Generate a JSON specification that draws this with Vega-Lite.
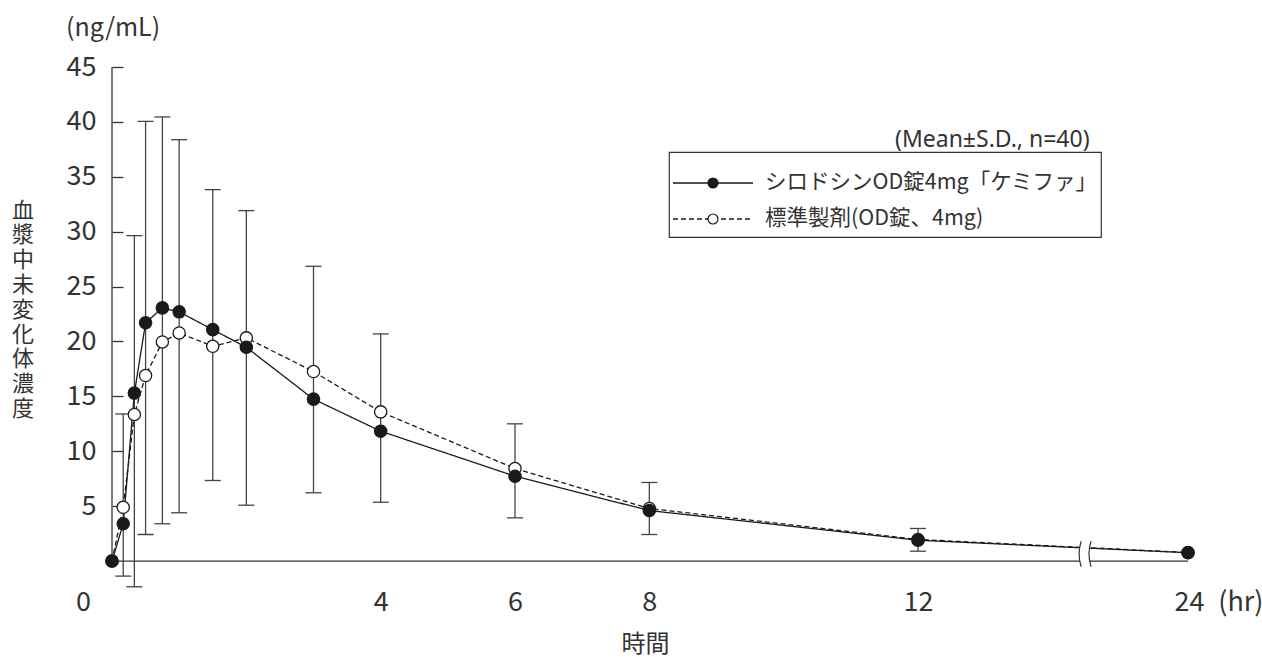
{
  "$schema": "https://vega.github.io/schema/vega-lite/v6.json",
  "width": 1076,
  "height": 538,
  "autosize": {"type": "none"},
  "padding": {"left": 112, "top": 67, "right": 74, "bottom": 52},
  "background": "white",
  "config": {"font": "Noto Sans CJK JP", "view": {"stroke": null}},
  "title": {"text": "(ng/mL)", "anchor": "start", "frame": "group", "orient": "top", "dx": -46, "dy": 27, "offset": 14, "baseline": "bottom", "fontSize": 25, "fontWeight": "normal", "color": "#333", "font": "Noto Sans CJK JP"},
  "datasets": {
    "conc": [
      {"t": 0, "v": 0, "series": "標準製剤(OD錠、4mg)"},
      {"t": 0.167, "v": 4.9, "series": "標準製剤(OD錠、4mg)"},
      {"t": 0.333, "v": 13.35, "series": "標準製剤(OD錠、4mg)"},
      {"t": 0.5, "v": 16.9, "series": "標準製剤(OD錠、4mg)"},
      {"t": 0.75, "v": 19.96, "series": "標準製剤(OD錠、4mg)"},
      {"t": 1, "v": 20.78, "series": "標準製剤(OD錠、4mg)"},
      {"t": 1.5, "v": 19.56, "series": "標準製剤(OD錠、4mg)"},
      {"t": 2, "v": 20.33, "series": "標準製剤(OD錠、4mg)"},
      {"t": 3, "v": 17.26, "series": "標準製剤(OD錠、4mg)"},
      {"t": 4, "v": 13.59, "series": "標準製剤(OD錠、4mg)"},
      {"t": 6, "v": 8.43, "series": "標準製剤(OD錠、4mg)"},
      {"t": 8, "v": 4.79, "series": "標準製剤(OD錠、4mg)"},
      {"t": 12, "v": 1.97, "series": "標準製剤(OD錠、4mg)"},
      {"t": 24, "v": 0.78, "series": "標準製剤(OD錠、4mg)"},
      {"t": 0, "v": 0, "series": "シロドシンOD錠4mg「ケミファ」"},
      {"t": 0.167, "v": 3.4, "series": "シロドシンOD錠4mg「ケミファ」"},
      {"t": 0.333, "v": 15.3, "series": "シロドシンOD錠4mg「ケミファ」"},
      {"t": 0.5, "v": 21.7, "series": "シロドシンOD錠4mg「ケミファ」"},
      {"t": 0.75, "v": 23.06, "series": "シロドシンOD錠4mg「ケミファ」"},
      {"t": 1, "v": 22.7, "series": "シロドシンOD錠4mg「ケミファ」"},
      {"t": 1.5, "v": 21.08, "series": "シロドシンOD錠4mg「ケミファ」"},
      {"t": 2, "v": 19.47, "series": "シロドシンOD錠4mg「ケミファ」"},
      {"t": 3, "v": 14.75, "series": "シロドシンOD錠4mg「ケミファ」"},
      {"t": 4, "v": 11.83, "series": "シロドシンOD錠4mg「ケミファ」"},
      {"t": 6, "v": 7.73, "series": "シロドシンOD錠4mg「ケミファ」"},
      {"t": 8, "v": 4.6, "series": "シロドシンOD錠4mg「ケミファ」"},
      {"t": 12, "v": 1.9, "series": "シロドシンOD錠4mg「ケミファ」"},
      {"t": 24, "v": 0.76, "series": "シロドシンOD錠4mg「ケミファ」"}
    ],
    "err": [
      {"t": 0.167, "lo": -1.37, "hi": 13.4},
      {"t": 0.333, "lo": -2.34, "hi": 29.64},
      {"t": 0.5, "lo": 2.42, "hi": 40.05},
      {"t": 0.75, "lo": 3.4, "hi": 40.45},
      {"t": 1, "lo": 4.4, "hi": 38.38},
      {"t": 1.5, "lo": 7.34, "hi": 33.83},
      {"t": 2, "lo": 5.09, "hi": 31.92},
      {"t": 3, "lo": 6.22, "hi": 26.85},
      {"t": 4, "lo": 5.36, "hi": 20.69},
      {"t": 6, "lo": 3.94, "hi": 12.5},
      {"t": 8, "lo": 2.42, "hi": 7.16},
      {"t": 12, "lo": 0.9, "hi": 2.97}
    ],
    "one": [{}]
  },
  "layer": [
    {
      "data": {"name": "err"},
      "mark": {"type": "rule", "stroke": "#444", "strokeWidth": 1.3},
      "encoding": {
        "x": {"field": "t", "type": "quantitative",
          "scale": {"domain": [0, 12, 24], "range": [0, 806, 1076], "nice": false, "zero": false},
          "axis": {"values": [0, 4, 6, 8, 12, 24], "domain": false, "ticks": false, "grid": false,
            "labelExpr": "datum.value == 24 ? '24\u00a0\u00a0\u200a(hr)' : datum.label",
            "labelAlign": {"condition": {"test": "datum.value == 24", "value": "left"}, "value": "center"},
            "labelOffset": {"condition": [{"test": "datum.value == 0", "value": -29}, {"test": "datum.value == 24", "value": -14}], "value": 0},
            "labelBaseline": "middle", "labelPadding": -3, "labelFontSize": 27, "labelColor": "#333", "labelFont": "Noto Sans CJK JP",
            "title": "時間", "titleX": 533, "titleY": 39, "titleAlign": "center", "titleBaseline": "middle", "titleAngle": 0,
            "titleFontSize": 24, "titleFontWeight": "normal", "titleColor": "#333", "titleFont": "Noto Sans CJK JP"}},
        "y": {"field": "lo", "type": "quantitative",
          "scale": {"domain": [-4, 45], "nice": false, "zero": false},
          "axis": {"values": [5, 10, 15, 20, 25, 30, 35, 40, 45], "domain": false, "grid": false,
            "tickSize": -11, "tickColor": "#333", "tickWidth": 1.3,
            "labelPadding": 27, "labelFontSize": 27, "labelColor": "#333", "labelFont": "Noto Sans CJK JP",
            "title": ["血", "漿", "中", "未", "変", "化", "体", "濃", "度"],
            "titleX": -89.5, "titleY": 133, "titleAlign": "center", "titleBaseline": "top", "titleAngle": 0,
            "titleFontSize": 22, "titleLineHeight": 24.8, "titleFontWeight": "normal", "titleColor": "#333", "titleFont": "Noto Sans CJK JP"}},
        "y2": {"field": "hi"}
      }
    },
    {
      "data": {"name": "err"},
      "mark": {"type": "tick", "orient": "horizontal", "size": 16, "thickness": 1.3, "color": "#444", "opacity": 1},
      "encoding": {
        "x": {"field": "t", "type": "quantitative", "scale": {"domain": [0, 12, 24], "range": [0, 806, 1076], "nice": false, "zero": false}},
        "y": {"field": "lo", "type": "quantitative", "scale": {"domain": [-4, 45], "nice": false, "zero": false}}
      }
    },
    {
      "data": {"name": "err"},
      "mark": {"type": "tick", "orient": "horizontal", "size": 16, "thickness": 1.3, "color": "#444", "opacity": 1},
      "encoding": {
        "x": {"field": "t", "type": "quantitative", "scale": {"domain": [0, 12, 24], "range": [0, 806, 1076], "nice": false, "zero": false}},
        "y": {"field": "hi", "type": "quantitative", "scale": {"domain": [-4, 45], "nice": false, "zero": false}}
      }
    },
    {
      "data": {"name": "one"},
      "mark": {"type": "rule", "stroke": "#333", "strokeWidth": 1.3},
      "encoding": {
        "y": {"datum": 0, "type": "quantitative", "scale": {"domain": [-4, 45], "nice": false, "zero": false}}
      }
    },
    {
      "data": {"name": "one"},
      "mark": {"type": "rule", "stroke": "#333", "strokeWidth": 1.3},
      "encoding": {
        "x": {"datum": 0, "type": "quantitative", "scale": {"domain": [0, 12, 24], "range": [0, 806, 1076], "nice": false, "zero": false}},
        "y": {"datum": 0, "type": "quantitative", "scale": {"domain": [-4, 45], "nice": false, "zero": false}},
        "y2": {"datum": 45}
      }
    },
    {
      "data": {"name": "conc"},
      "mark": {"type": "line", "stroke": "#1a1a1a", "strokeWidth": 1.3},
      "encoding": {
        "x": {"field": "t", "type": "quantitative", "scale": {"domain": [0, 12, 24], "range": [0, 806, 1076], "nice": false, "zero": false}},
        "y": {"field": "v", "type": "quantitative", "scale": {"domain": [-4, 45], "nice": false, "zero": false}},
        "strokeDash": {"field": "series", "type": "nominal",
          "scale": {"domain": ["シロドシンOD錠4mg「ケミファ」", "標準製剤(OD錠、4mg)"], "range": [[1, 0], [5, 3]]},
          "legend": {"orient": "none", "legendX": 560, "legendY": 62, "padding": 0, "columnPadding": 0,
            "title": "(Mean±S.D., n=40)", "titleAnchor": "start", "titleFontSize": 23, "titleFontWeight": "normal", "titleColor": "#333",
            "titleFont": "Noto Sans", "titlePadding": 16, "titleLimit": 600,
            "symbolType": "stroke", "symbolSize": 6400, "symbolStrokeWidth": 1.3, "symbolStrokeColor": "#1a1a1a",
            "clipHeight": 30, "rowPadding": 6, "labelOffset": 11, "labelFontSize": 21, "labelFont": "Noto Sans CJK JP",
            "labelExpr": "''", "labelLimit": 600, "zindex": 1,
            "encode": {"title": {"update": {"dx": {"value": 223}}}}}}
      }
    },
    {
      "data": {"name": "conc"},
      "mark": {"type": "point", "filled": true, "size": 150, "stroke": "#1a1a1a", "strokeWidth": 1.3, "opacity": 1},
      "encoding": {
        "x": {"field": "t", "type": "quantitative", "scale": {"domain": [0, 12, 24], "range": [0, 806, 1076], "nice": false, "zero": false}},
        "y": {"field": "v", "type": "quantitative", "scale": {"domain": [-4, 45], "nice": false, "zero": false}},
        "fill": {"field": "series", "type": "nominal",
          "scale": {"range": ["#1a1a1a", "#ffffff"]},
          "legend": {"orient": "none", "legendX": 557, "legendY": 85, "padding": 3, "columnPadding": 0,
            "strokeColor": "#333", "title": " ", "titleFontSize": 9, "titlePadding": 4,
            "symbolType": "M-0.125,0A0.125,0.125 0 1,0 0.125,0A0.125,0.125 0 1,0 -0.125,0Z",
            "symbolSize": 6400, "symbolStrokeWidth": 1.2, "symbolStrokeColor": "#1a1a1a", "symbolOpacity": 1,
            "clipHeight": 30, "rowPadding": 6, "labelOffset": 11, "labelFontSize": 21.5, "labelFont": "Noto Sans CJK JP",
            "labelColor": "#333", "labelLimit": 600, "zindex": 2,
            "encode": {"legend": {"update": {"strokeWidth": {"value": 1.2}}}}}}
      }
    },
    {
      "data": {"name": "one"},
      "mark": {"type": "point", "shape": "M-0.33,-0.85 Q-0.6,0 -0.33,0.85 L0.33,0.85 Q0.06,0 0.33,-0.85 Z", "size": 900, "filled": true, "fill": "#ffffff", "strokeWidth": 0, "opacity": 1},
      "encoding": {
        "x": {"datum": 19.47, "type": "quantitative", "scale": {"domain": [0, 12, 24], "range": [0, 806, 1076], "nice": false, "zero": false}},
        "y": {"datum": 0.65, "type": "quantitative", "scale": {"domain": [-4, 45], "nice": false, "zero": false}}
      }
    },
    {
      "data": {"name": "one"},
      "mark": {"type": "point", "shape": "M-0.33,-0.85 Q-0.6,0 -0.33,0.85 M0.33,-0.85 Q0.06,0 0.33,0.85", "size": 900, "filled": false, "stroke": "#333", "strokeWidth": 1.2, "opacity": 1},
      "encoding": {
        "x": {"datum": 19.47, "type": "quantitative", "scale": {"domain": [0, 12, 24], "range": [0, 806, 1076], "nice": false, "zero": false}},
        "y": {"datum": 0.65, "type": "quantitative", "scale": {"domain": [-4, 45], "nice": false, "zero": false}}
      }
    }
  ]
}
